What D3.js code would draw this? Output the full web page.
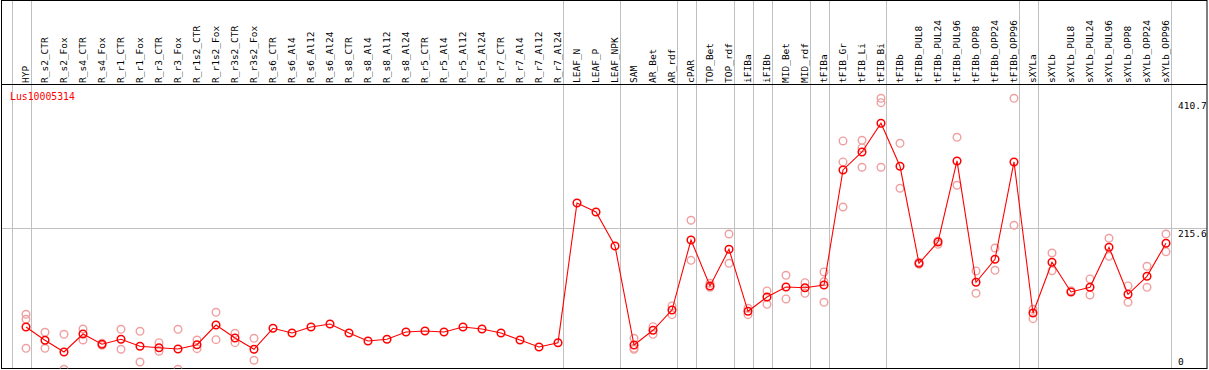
<!DOCTYPE html>
<html>
<head>
<meta charset="utf-8">
<style>
  body { margin: 0; background: #fff; }
  text { font-family: "DejaVu Sans Mono", monospace; font-size: 9.5px; }
</style>
</head>
<body>
<div id="chart"></div>
<script src="https://d3js.org/d3.v7.min.js"></script>
<script>
// sample groups (a grey separator line is drawn around each group)
const groups = [
  ["HYP"],
  ["R_s2_CTR", "R_s2_Fox", "R_s4_CTR", "R_s4_Fox", "R_r1_CTR", "R_r1_Fox", "R_r3_CTR", "R_r3_Fox",
   "R_r1s2_CTR", "R_r1s2_Fox", "R_r3s2_CTR", "R_r3s2_Fox",
   "R_s6_CTR", "R_s6_Al4", "R_s6_Al12", "R_s6_Al24", "R_s8_CTR", "R_s8_Al4", "R_s8_Al12", "R_s8_Al24",
   "R_r5_CTR", "R_r5_Al4", "R_r5_Al12", "R_r5_Al24", "R_r7_CTR", "R_r7_Al4", "R_r7_Al12", "R_r7_Al24"],
  ["LEAF_N", "LEAF_P", "LEAF_NPK"],
  ["SAM", "AR_Bet", "AR_rdf"],
  ["cPAR"],
  ["TOP_Bet", "TOP_rdf"],
  ["iFIBa"],
  ["iFIBb"],
  ["MID_Bet", "MID_rdf"],
  ["tFIBa"],
  ["tFIB_Gr", "tFIB_Li", "tFIB_Bi"],
  ["tFIBb", "tFIBb_PUL8", "tFIBb_PUL24", "tFIBb_PUL96", "tFIBb_OPP8", "tFIBb_OPP24", "tFIBb_OPP96"],
  ["sXYLa"],
  ["sXYLb", "sXYLb_PUL8", "sXYLb_PUL24", "sXYLb_PUL96", "sXYLb_OPP8", "sXYLb_OPP24", "sXYLb_OPP96"]
];

const geneName = "Lus10005314";

// mean expression per sample
const means = [
  67.5,
  47.6, 30.0, 57.0, 41.6, 49.1, 38.6, 36.5, 34.5, 41.0, 70.5, 51.0, 34.1,
  65.6, 58.5, 67.5, 72.0, 58.5, 46.5, 49.1, 60.0, 61.5, 60.0, 67.5, 64.5, 58.5, 48.0, 37.5, 44.0,
  253.6, 240.1, 189.1,
  40.5, 62.6, 93.0,
  198.1,
  129.1, 184.1,
  91.1,
  112.6,
  127.6, 126.5,
  130.6,
  303.2, 330.2, 373.3,
  308.7, 163.1, 195.1, 316.7, 134.6, 169.1, 315.2,
  88.5,
  164.6, 120.1, 127.1, 187.1, 116.6, 143.6, 193.2
];

// replicate values per sample (empty where replicates sit on the mean)
const replicates = [
  [86.6, 79.1, 35.6],
  [59.6, 35.6], [56.6, 4.1], [64.5, 48.0], [43.1, 40.1], [64.1, 34.1], [61.1, 15.0], [44.0, 31.1], [64.1, 4.1],
  [48.0, 35.0], [89.6, 48.5], [58.1, 44.0], [50.6, 17.6],
  [], [], [], [], [], [], [], [], [], [], [], [], [], [], [], [],
  [], [], [],
  [50.6, 35.6, 34.1], [68.0, 56.6], [99.1, 86.0],
  [227.7, 167.6],
  [133.1, 127.1], [207.1, 163.1],
  [95.6, 86.0],
  [121.6, 101.6],
  [145.1, 109.6], [134.0, 118.1],
  [150.1, 135.5, 104.6],
  [346.7, 315.2, 247.6], [347.7, 336.2, 307.2], [410.7, 404.2, 307.2],
  [343.2, 275.7], [161.6, 164.6], [196.6, 191.6], [352.2, 280.2], [151.6, 118.1], [186.1, 152.6], [410.7, 220.2],
  [94.1, 80.0],
  [178.6, 152.0], [122.0], [139.6, 115.6], [200.7, 173.6], [129.1, 104.6], [158.6, 127.1], [207.1, 180.5]
];

const yTicks = [0, 215.6, 410.7];
const gridTicks = [215.6];

const categories = groups.flat();
const W = 1209, H = 370;
const frameL = 1.5, frameR = 1207, frameT = 0.5, headerY = 84.5, frameB = 368.5;

const svg = d3.select("#chart").append("svg")
  .attr("width", W).attr("height", H);

const x = d3.scaleBand()
  .domain(categories)
  .range([11.5, 11.5 + categories.length * 19]);
const px = d => x(d) + 14.5;

const y = d3.scaleLinear().domain([0, 410.7]).range([372, 98.3]);

svg.append("defs").append("clipPath").attr("id", "plot")
  .append("rect").attr("x", frameL).attr("y", headerY)
  .attr("width", frameR - frameL).attr("height", frameB - headerY);

// group separators
const seps = [x(categories[0])].concat(groups.map(g => x(g[g.length - 1]) + x.bandwidth()));
svg.append("g").selectAll("line").data(seps).join("line")
  .attr("x1", d => Math.round(d) + 0.5).attr("x2", d => Math.round(d) + 0.5)
  .attr("y1", frameT).attr("y2", frameB)
  .attr("stroke", "#c0c0c0").attr("stroke-width", 1);

// horizontal grid
svg.append("g").selectAll("line").data(gridTicks).join("line")
  .attr("x1", frameL).attr("x2", frameR)
  .attr("y1", d => Math.round(y(d)) + 0.5).attr("y2", d => Math.round(y(d)) + 0.5)
  .attr("stroke", "#c0c0c0").attr("stroke-width", 1);

// frame + header separator
svg.append("rect")
  .attr("x", frameL).attr("y", frameT).attr("width", frameR - frameL).attr("height", frameB - frameT)
  .attr("fill", "none").attr("stroke", "#000").attr("stroke-width", 1);
svg.append("line")
  .attr("x1", frameL).attr("x2", frameR).attr("y1", headerY).attr("y2", headerY)
  .attr("stroke", "#000").attr("stroke-width", 1);

// column labels
svg.append("g").selectAll("text").data(categories).join("text")
  .attr("transform", d => `translate(${px(d) + 2.5},83) rotate(-90)`)
  .attr("fill", "#000")
  .text(d => d);

// y tick labels
svg.append("g").selectAll("text").data(yTicks).join("text")
  .attr("x", 1178)
  .attr("y", d => Math.max(109, Math.min(365, y(d) + 8.5)))
  .attr("fill", "#000")
  .text(d => d);

svg.append("text")
  .attr("x", 10).attr("y", 100)
  .attr("fill", "#ff0000")
  .style("font-size", "9.8px")
  .text(geneName);

const plot = svg.append("g").attr("clip-path", "url(#plot)");

// replicates
const repPts = [];
categories.forEach((c, i) => replicates[i].forEach(v => repPts.push({ c, v })));
plot.append("g").selectAll("circle").data(repPts).join("circle")
  .attr("cx", d => px(d.c)).attr("cy", d => y(d.v)).attr("r", 3.8)
  .attr("fill", "none").attr("stroke", "#f0a0a0").attr("stroke-width", 1.4);

// mean line
const meanPts = categories.map((c, i) => ({ c, v: means[i] }));
plot.append("path").datum(meanPts)
  .attr("d", d3.line().x(d => px(d.c)).y(d => y(d.v)))
  .attr("fill", "none").attr("stroke", "#ff0000").attr("stroke-width", 1.1);

plot.append("g").selectAll("circle").data(meanPts).join("circle")
  .attr("cx", d => px(d.c)).attr("cy", d => y(d.v)).attr("r", 3.8)
  .attr("fill", "none").attr("stroke", "#ff0000").attr("stroke-width", 1.5);
</script>
</body>
</html>
